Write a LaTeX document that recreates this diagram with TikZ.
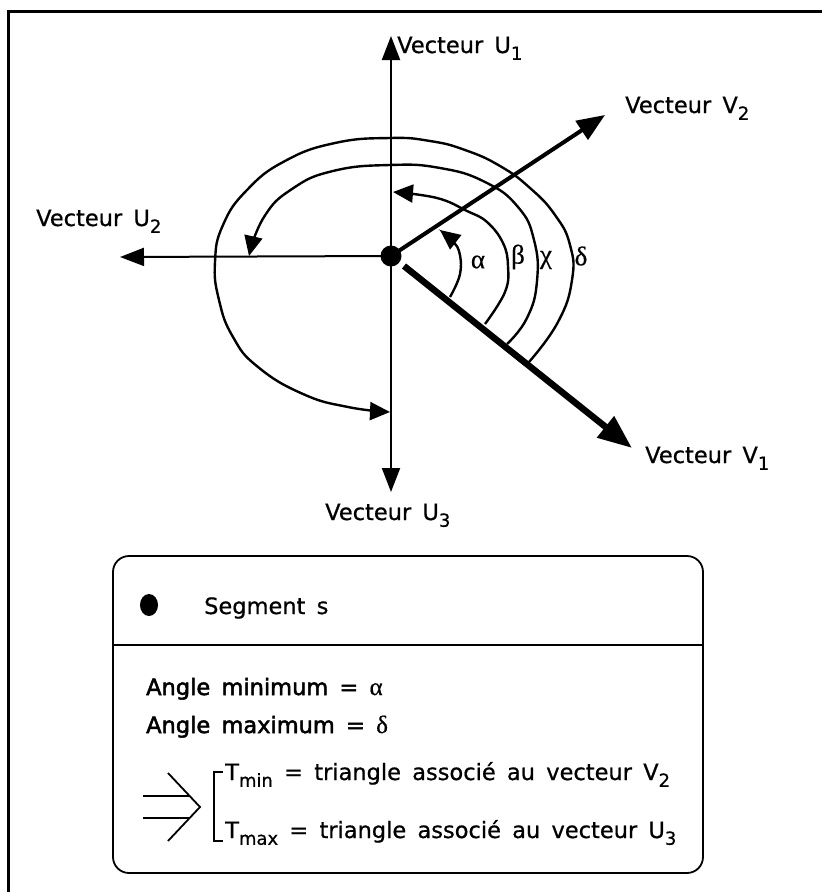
\documentclass[tikz,border=0pt]{standalone}
\usepackage{fontspec}
\setmainfont{DejaVu Sans}[FakeBold=0.7]
\newfontfamily\greekf{Liberation Serif}[FakeBold=0.5]
\newfontfamily\semib{DejaVu Sans}[FakeBold=2.2]
\usetikzlibrary{arrows.meta}
\newcommand\lsub[1]{\raisebox{-0.3em}{\fontsize{18}{18}\selectfont #1}}
\newcommand\gr[1]{{\greekf\fontsize{25}{25}\selectfont #1}}
\newcommand\lblfont{\fontsize{22.5}{26}\selectfont\spaceskip 0.5em\relax}
\begin{document}
\begin{tikzpicture}[x=1pt,y=-1pt,
  lbl/.style={font=\lblfont, inner sep=0pt, anchor=base west},
  glbl/.style={font=\fontsize{27}{27}\selectfont\greekf, inner sep=0pt},
  ax/.style={line width=2pt, -{Triangle[length=24pt,width=18pt]}},
  arcs/.style={line width=2.4pt, -{Triangle[length=20pt,width=18pt]}},
  thinl/.style={line width=1.8pt},
]
\useasboundingbox (0,0) rectangle (822,892);
% frame
\draw[line width=3pt] (8,892) -- (8,11) -- (822,11);
% centre
\coordinate (O) at (391,256);
\coordinate (u1) at (391,36);
\coordinate (u2) at (120,257);
\coordinate (u3) at (391,492);
\coordinate (v2) at (605,115);
\coordinate (v1s) at (404,266);
\coordinate (v1) at (632,448);
\draw[ax] (O) -- (u1);
\draw[ax] (O) -- (u2);
\draw[ax] (O) -- (u3);
\draw[line width=4pt, -{Triangle[length=28pt,width=22pt]}] (O) -- (v2);
\draw[line width=6.5pt, -{Triangle[length=34pt,width=26pt]}] (v1s) -- (v1);
\fill (O) circle (10.5);
% arcs
\draw[arcs] plot[smooth, tension=0.7] coordinates {(450,297) (460,274) (459,251) (450,239) (440,230)};
\draw[arcs] plot[smooth, tension=0.7] coordinates {(485,324) (505,292) (508,266) (503,243) (487,222) (467,211) (437,198) (393,192)};
\draw[arcs] plot[smooth, tension=0.8] coordinates {(507,344) (527,318) (537,281) (534,240) (518,207) (485,182) (440,168) (390,165) (333,171) (292,189) (264,217) (249,256)};
\draw[arcs] plot[smooth, tension=0.8] coordinates {(529,362) (558,322) (572,280) (570,245) (555,215) (530,188) (500,166) (465,150) (430,141) (390,138) (335,143) (285,161) (247,190) (223,225) (215,262) (219,300) (233,337) (258,367) (303,394) (348,407) (390,412)};
% greek labels
\node[glbl] (ga) at (478,262) {α};
\node[glbl] (gb) at (518,257) {β};
\node[glbl] (gc) at (546,260) {χ};
\node[glbl] (gd) at (581,256) {δ};
% vector labels
\node[lbl] (lu1) at (397,53) {Vecteur U\lsub{1}};
\node[lbl] (lv2) at (625,113) {Vecteur V\lsub{2}};
\node[lbl] (lu2) at (36,226) {Vecteur U\lsub{2}};
\node[lbl] (lv1) at (645,463) {Vecteur V\lsub{1}};
\node[lbl] (lu3) at (325,520) {Vecteur U\lsub{3}};
% legend box
\draw[thinl, rounded corners=16pt] (113,556) rectangle (703,873);
\draw[thinl] (113,645) -- (703,645);
\fill (149,605) ellipse (9 and 11);
\node[lbl] (seg) at (204,614) {Segment s};
\node[lbl] (amin) at (146,695) {\semib Angle minimum = \gr{α}};
\node[lbl] (amax) at (146,733) {\semib Angle maximum = \gr{δ}};
\draw[thinl] (143,796) -- (190,796);
\draw[thinl] (143,818) -- (190,818);
\draw[thinl] (168,773) -- (200,807) -- (168,841);
\draw[thinl] (223,772) -- (214,772) -- (214,841) -- (223,841);
\node[lbl] (tmin) at (225,780) {T\lsub{min} = triangle associé au vecteur V\lsub{2}};
\node[lbl] (tmax) at (225,838) {T\lsub{max} = triangle associé au vecteur U\lsub{3}};
\end{tikzpicture}
\end{document}
